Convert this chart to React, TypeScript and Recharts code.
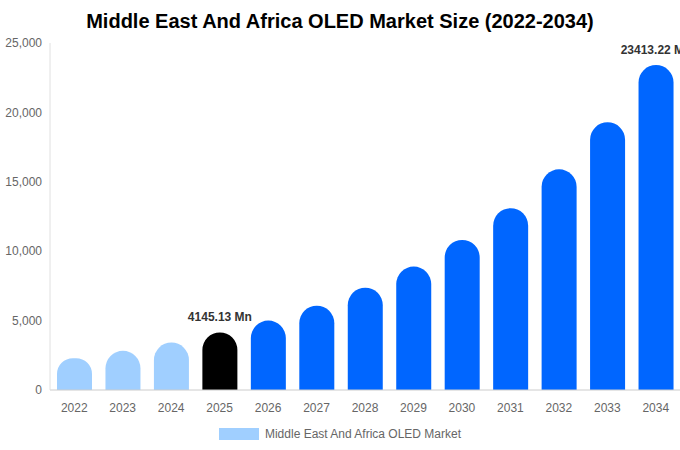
import { BarChart, Bar, XAxis, YAxis, Legend, Cell, LabelList } from 'recharts'

const years = ['2022', '2023', '2024', '2025', '2026', '2027', '2028', '2029', '2030', '2031', '2032', '2033', '2034']
const marketSize = [2290, 2820, 3420, 4145.13, 5000, 6070, 7370, 8890, 10810, 13100, 15900, 19290, 23413.22]
const yTicks = [0, 5000, 10000, 15000, 20000, 25000]
const labelledYears = ['2025', '2034']

const seriesName = 'Middle East And Africa OLED Market'
const FONT = '"Liberation Sans", Arial, sans-serif'

const data = years.map((year, i) => ({ year, value: marketSize[i] }))

function barColor(i: number) {
  if (i < 3) return '#a0cfff'
  if (i === 3) return '#000000'
  return '#0066ff'
}

function ValueLabel(props: any) {
  const { x, y, width, index } = props
  if (!labelledYears.includes(years[index])) return null
  return (
    <text
      x={x + width / 2}
      y={y - 11}
      textAnchor="middle"
      fontSize={12}
      fontWeight="bold"
      fill="#333"
      fontFamily={FONT}
    >
      {`${marketSize[index].toFixed(2)} Mn`}
    </text>
  )
}

function LegendContent() {
  return (
    <div style={{ display: 'flex', justifyContent: 'center', alignItems: 'center', fontFamily: FONT }}>
      <span style={{ width: 40, height: 12, background: '#a0cfff', display: 'inline-block', marginRight: 6 }} />
      <span style={{ fontSize: 12, color: '#666' }}>{seriesName}</span>
    </div>
  )
}

export default function App() {
  return (
    <div style={{ position: 'absolute', left: 0, top: 0, width: 680, height: 450, background: '#fff', fontFamily: FONT }}>
      <div
        style={{
          position: 'absolute',
          top: 10,
          left: 0,
          width: 680,
          textAlign: 'center',
          fontSize: 20,
          fontWeight: 'bold',
          color: '#000',
        }}
      >
        Middle East And Africa OLED Market Size (2022-2034)
      </div>
      <BarChart
        width={680}
        height={450}
        data={data}
        margin={{ top: 43, right: 0, left: 0, bottom: 3 }}
        barSize={35}
      >
        <XAxis
          dataKey="year"
          tick={{ fontSize: 12, fill: '#666', fontFamily: FONT }}
          tickLine={false}
          tickMargin={7}
          axisLine={{ stroke: '#ccc' }}
          height={37}
        />
        <YAxis
          ticks={yTicks}
          domain={[0, 25000]}
          width={50}
          tick={{ fontSize: 12, fill: '#666', fontFamily: FONT }}
          tickLine={false}
          axisLine={{ stroke: '#e0e0e0' }}
          tickFormatter={(v) => v.toLocaleString('en-US')}
        />
        <Legend verticalAlign="bottom" content={<LegendContent />} wrapperStyle={{ height: 20 }} />
        <Bar dataKey="value" name={seriesName} radius={[17.5, 17.5, 0, 0]} isAnimationActive={false}>
          {data.map((d, i) => (
            <Cell key={d.year} fill={barColor(i)} />
          ))}
          <LabelList dataKey="value" content={<ValueLabel />} />
        </Bar>
      </BarChart>
    </div>
  )
}
